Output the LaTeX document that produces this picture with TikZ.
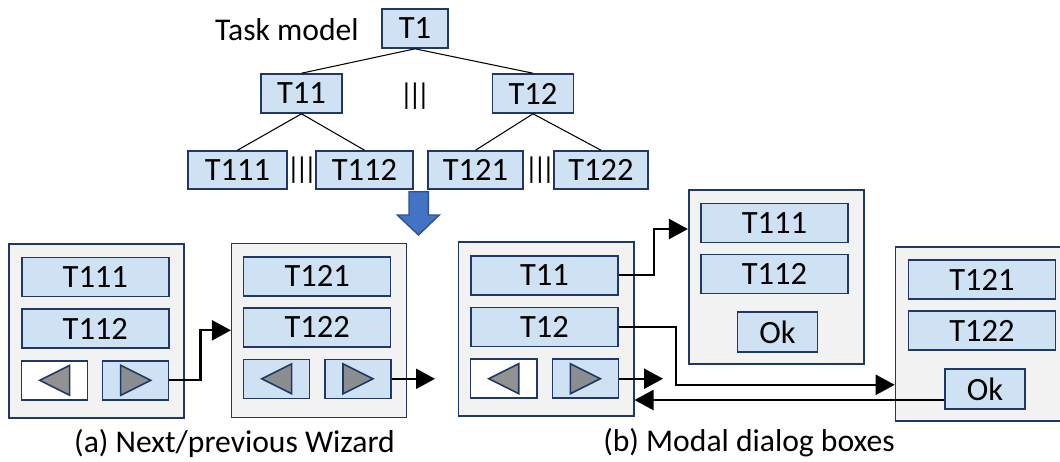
\documentclass[tikz,border=0pt]{standalone}
\usepackage{fontspec}
\setmainfont{Carlito}
\usepackage{xcolor}
\usepackage{tikz,pgffor}
\usetikzlibrary{arrows.meta}
\definecolor{MyNavy}{HTML}{1F3864}
\definecolor{MyBlue}{HTML}{CFE2F3}
\definecolor{MyGrey}{HTML}{F2F2F2}
\definecolor{MyDark}{HTML}{2F528F}
\definecolor{MyArrowBlue}{HTML}{4472C4}
\def\px{0.02cm}
\tikzset{
	MyPixels/.style={x=0.02cm,y=-0.02cm},% 1 unit = 1 pixel of the figure
	MyPanel/.style={draw=MyNavy,fill=MyGrey,line width=0.9pt,inner sep=0pt,
    minimum width=175*\px,minimum height=174*\px},
	MyBox/.style={draw=MyNavy,fill=MyBlue,line width=0.9pt,inner sep=0pt,
    minimum height=39*\px,font=\fontsize{18.5}{21}\selectfont},
	MyWide/.style={MyBox,minimum width=147*\px},
	MyButton/.style={MyBox,minimum width=66*\px},
	MyOk/.style={MyBox,minimum width=80*\px,minimum height=40*\px},
	MyTri/.style={draw=MyNavy,fill=gray,fill opacity=0.85,line width=0.9pt,line join=miter},
	MyText/.style={inner sep=0pt,font=\fontsize{18}{21}\selectfont},
	MyPar/.style={inner sep=0pt,font=\fontsize{17}{20}\selectfont},
	MyCaption/.style={inner sep=0pt,font=\fontsize{18}{21}\selectfont},
	MyArrow/.style={line width=1.3pt,-{Triangle[length=0.38cm,width=0.4cm]}}
		}
\newcommand{\MyBars}{|\kern-3pt|\kern-3pt|}

\begin{document}
\begin{tikzpicture}[MyPixels]
	\useasboundingbox (0,0) rectangle (1060,461);

	% task model
	\node[MyText] (Task) at (287,30) {Task model};
	\node[MyBox,minimum width=66*\px] (T1) at (415,28.5) {T1};
	\node[MyBox,minimum width=81*\px] (T11) at (301.5,93.5) {T11};
	\node[MyBox,minimum width=81*\px] (T12) at (533,93.5) {T12};
	\node[MyBox,minimum width=99*\px,minimum height=38*\px] (T111) at (237.5,170) {T111};
	\node[MyBox,minimum width=97*\px,minimum height=38*\px] (T112) at (364.5,170) {T112};
	\node[MyBox,minimum width=95*\px,minimum height=38*\px] (T121) at (475.5,170) {T121};
	\node[MyBox,minimum width=94*\px,minimum height=38*\px] (T122) at (601,170) {T122};
	\node[MyPar] (ParA) at (415,96) {\MyBars};
	\node[MyPar] (ParB) at (302,170) {\MyBars};
	\node[MyPar] (ParC) at (540,170) {\MyBars};
	\draw[line width=0.6pt] (T1.south) -- (T11.north) (T1.south) -- (T12.north);
	\draw[line width=0.6pt] (T11.south) -- (T111.north) (T11.south) -- (T112.north);
	\draw[line width=0.6pt] (T12.south) -- (T121.north) (T12.south) -- (T122.north);

	% big blue arrow
	\draw[fill=MyArrowBlue,draw=MyDark,line width=0.8pt] (409,191.7) -- (428.3,191.7)
		-- (428.3,215) -- (439.3,215) -- (418.5,235) -- (397.3,215) -- (409,215) -- cycle;

	% (a) wizard
	\node[MyPanel] (PanelA) at (96.5,331) {};
	\node[MyWide] (A111) at (95.3,277) {T111};
	\node[MyWide] (A112) at (95.3,328.7) {T112};
	\node[MyButton,fill=white] (ABack) at (54.7,380.3) {};
	\node[MyButton] (ANext) at (135.7,380.3) {};
	\node[MyPanel] (PanelB) at (319.2,330.3) {};
	\node[MyWide] (B121) at (317.2,276.2) {T121};
	\node[MyWide] (B122) at (317.2,327.2) {T122};
	\node[MyButton] (BBack) at (276.7,378.8) {};
	\node[MyButton] (BNext) at (358,378.8) {};

	% (b) modal dialogs
	\node[MyPanel] (PanelC) at (546.2,329.2) {};
	\node[MyWide] (C11) at (544.5,275.2) {T11};
	\node[MyWide] (C12) at (544.5,326.8) {T12};
	\node[MyButton,fill=white] (CBack) at (503.7,378.7) {};
	\node[MyButton] (CNext) at (585.3,378.7) {};
	\node[MyPanel] (PanelD) at (776.2,277) {};
	\node[MyWide] (D111) at (774.5,222.8) {T111};
	\node[MyWide] (D112) at (774.5,273.8) {T112};
	\node[MyOk] (DOk) at (777.5,332.2) {Ok};
	\node[MyPanel] (PanelE) at (983,333.8) {};
	\node[MyWide] (E121) at (982,279.5) {T121};
	\node[MyWide] (E122) at (982,330.5) {T122};
	\node[MyOk] (EOk) at (985,389) {Ok};

	% previous / next triangles
	\foreach \b in {ABack,BBack,CBack}
		{\draw[MyTri] ([shift={(-15,0)}]\b.center) -- ++(30,-15) -- ++(0,30) -- cycle;}
	\foreach \b in {ANext,BNext,CNext}
		{\draw[MyTri] ([shift={(15,0)}]\b.center) -- ++(-30,-15) -- ++(0,30) -- cycle;}

	% connectors
	\coordinate (WizEnd) at (435,378.8);
	\coordinate (NextEnd) at (663,378.7);
	\coordinate (Ret) at ([yshift=-0.22cm]EOk.west);
	\draw[MyArrow] (ANext.east) -- ++(31,0) |- (PanelB.west);
	\draw[MyArrow] (BNext.east) -- (WizEnd);
	\draw[MyArrow] (C11.east) -- ++(35,0) |- ([yshift=0.96cm]PanelD.west);
	\draw[MyArrow] (C12.east) -- ++(57,0) |- ([yshift=-1.02cm]PanelE.west);
	\draw[MyArrow] (CNext.east) -- (NextEnd);
	\draw[MyArrow] (Ret) -- (PanelC.east |- Ret);

	% captions
	\node[MyCaption] (CapA) at (234.5,443) {(a) Next/previous Wizard};
	\node[MyCaption] (CapB) at (749,443) {(b) Modal dialog boxes};
\end{tikzpicture}
\end{document}
